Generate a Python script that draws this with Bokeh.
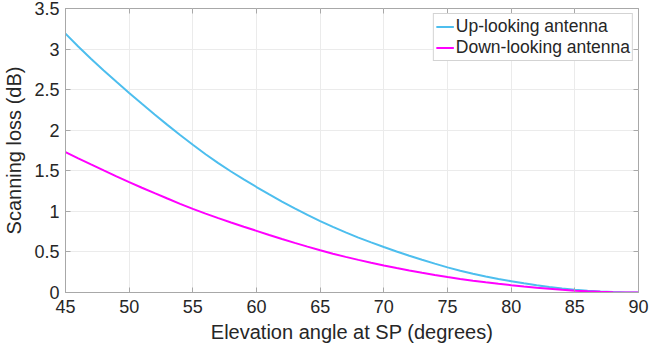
from bokeh.plotting import figure
from bokeh.models import Range1d, LinearAxis, FixedTicker, CustomJSTickFormatter, ColumnDataSource
from bokeh.embed import file_html
from bokeh.resources import INLINE

elevation = list(range(45, 91))
up_loss = [3.19, 3.032, 2.881, 2.736, 2.596, 2.46, 2.325, 2.194, 2.066, 1.941,
           1.82, 1.704, 1.595, 1.491, 1.393, 1.30, 1.208, 1.12, 1.036, 0.956,
           0.88, 0.808, 0.741, 0.677, 0.617, 0.56, 0.505, 0.453, 0.404, 0.356,
           0.31, 0.268, 0.23, 0.196, 0.166, 0.14, 0.114, 0.09, 0.069, 0.05,
           0.035, 0.022, 0.012, 0.005, 0.001, 0.0]
down_loss = [1.73, 1.653, 1.578, 1.504, 1.431, 1.36, 1.291, 1.224, 1.158, 1.093,
             1.03, 0.972, 0.916, 0.862, 0.81, 0.76, 0.709, 0.66, 0.612, 0.565,
             0.52, 0.478, 0.439, 0.402, 0.367, 0.333, 0.301, 0.271, 0.243, 0.216,
             0.19, 0.167, 0.145, 0.125, 0.107, 0.09, 0.074, 0.059, 0.045, 0.033,
             0.022, 0.014, 0.008, 0.004, 0.001, 0.0]
x_ticks = [45, 50, 55, 60, 65, 70, 75, 80, 85, 90]
y_ticks = [0, 0.5, 1, 1.5, 2, 2.5, 3, 3.5]

FONT = "Liberation Sans"
TXT = "#262626"
AX = "#a8a8a8"

src = ColumnDataSource(dict(x=elevation, up=up_loss, down=down_loss))

p = figure(width=669, height=351, output_backend="svg", toolbar_location=None,
           x_range=Range1d(45, 90), y_range=Range1d(0, 3.5))
p.min_border_left = 64
p.min_border_right = 31
p.min_border_top = 8
p.min_border_bottom = 59
p.outline_line_color = AX
p.background_fill_color = "white"
p.border_fill_color = "white"

p.line("x", "up", source=src, line_color="#4DBEEE", line_width=2, legend_label="Up-looking antenna")
p.line("x", "down", source=src, line_color="#FF00FF", line_width=2, legend_label="Down-looking antenna")

fmt = CustomJSTickFormatter(code="return String(tick);")

xa = p.xaxis[0]
ya = p.yaxis[0]
xa.ticker = FixedTicker(ticks=x_ticks)
ya.ticker = FixedTicker(ticks=y_ticks)
ya.formatter = fmt
xa.axis_label = "Elevation angle at SP (degrees)"
ya.axis_label = "Scanning loss (dB)"
for a in (xa, ya):
    a.axis_line_color = AX
    a.major_tick_line_color = AX
    a.major_tick_in = 5
    a.major_tick_out = 0
    a.minor_tick_line_color = None
    a.major_label_text_font = FONT
    a.major_label_text_font_size = "18px"
    a.major_label_text_color = TXT
    a.axis_label_text_font = FONT
    a.axis_label_text_font_size = "20px"
    a.axis_label_text_font_style = "normal"
    a.axis_label_text_color = TXT
xa.major_label_standoff = 7
xa.axis_label_standoff = 5
ya.major_label_standoff = 6
ya.axis_label_standoff = 6

blank = CustomJSTickFormatter(code="return '';")
for loc, tk in (("above", x_ticks), ("right", y_ticks)):
    ax = LinearAxis(ticker=FixedTicker(ticks=tk), formatter=blank)
    ax.axis_line_color = None
    ax.major_tick_line_color = AX
    ax.major_tick_in = 5
    ax.major_tick_out = 0
    ax.minor_tick_line_color = None
    ax.major_label_text_font_size = "1px"
    ax.major_label_standoff = 0
    p.add_layout(ax, loc)

p.xgrid.ticker = FixedTicker(ticks=x_ticks)
p.ygrid.ticker = FixedTicker(ticks=y_ticks)
p.grid.grid_line_color = "#ebebeb"
p.grid.grid_line_width = 1

lg = p.legend[0]
lg.location = "top_right"
lg.margin = 5
lg.padding = 2
lg.spacing = 0
lg.glyph_width = 18
lg.glyph_height = 21
lg.label_height = 21
lg.label_standoff = 2
lg.label_text_font = FONT
lg.label_text_font_size = "17.5px"
lg.label_text_color = TXT
lg.border_line_color = AX
lg.border_line_width = 1
lg.background_fill_alpha = 1

open("out.html", "w").write(file_html(p, INLINE))
